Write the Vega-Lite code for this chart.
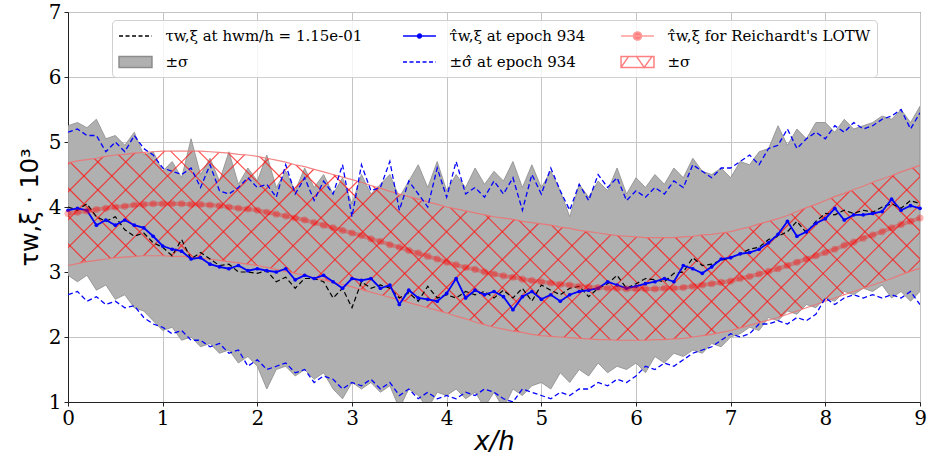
{
"$schema": "https://vega.github.io/schema/vega-lite/v6.json",
"width": 852, "height": 390,
"autosize": {"type": "none"},
"padding": {"left": 68, "top": 12, "right": 9, "bottom": 56},
"background": "white",
"config": {
  "view": {"stroke": "#222222", "strokeWidth": 1},
  "axis": {"zindex": 1, "grid": true, "gridColor": "#c4c4c4", "gridWidth": 1, "domainColor": "#222222", "tickColor": "#222222", "tickSize": 4, "labelColor": "black", "labelFont": "DejaVu Serif", "labelFontSize": 20, "labelFlush": false, "titleColor": "black", "titleFont": "DejaVu Sans", "titleFontWeight": "normal", "format": "d"},
  "axisX": {"labelPadding": 2, "titlePadding": 0, "titleFontStyle": "italic", "titleFontSize": 26},
  "axisY": {"labelPadding": 3, "titlePadding": 6, "titleFontSize": 24},
  "legend": {"labelFont": "DejaVu Serif", "labelFontSize": 15, "labelColor": "black", "labelLimit": 400, "symbolStrokeWidth": 1.5, "fillColor": "rgba(255,255,255,0.82)", "strokeColor": "#d0d0d0", "cornerRadius": 4, "padding": 6, "zindex": 2},
  "style": {
    "hatch": {"stroke": null}
  }
},
"datasets": {
"main": [
{"x":0.0,"t":4.00,"b":3.95,"gl":2.95,"gh":5.25,"bl":2.65,"bh":5.15,"r":3.90,"rl":3.10,"rh":4.68},
{"x":0.1,"t":3.95,"b":3.98,"gl":2.85,"gh":5.30,"bl":2.70,"bh":5.20,"r":3.92,"rl":3.13,"rh":4.71},
{"x":0.2,"t":4.05,"b":3.95,"gl":2.95,"gh":5.22,"bl":2.55,"bh":5.10,"r":3.94,"rl":3.16,"rh":4.73},
{"x":0.3,"t":3.85,"b":3.72,"gl":2.72,"gh":5.35,"bl":2.62,"bh":5.10,"r":3.96,"rl":3.18,"rh":4.75},
{"x":0.4,"t":3.78,"b":3.80,"gl":2.80,"gh":5.05,"bl":2.50,"bh":4.85,"r":3.98,"rl":3.20,"rh":4.78},
{"x":0.5,"t":3.85,"b":3.72,"gl":2.58,"gh":5.10,"bl":2.55,"bh":5.00,"r":4.00,"rl":3.22,"rh":4.80},
{"x":0.6,"t":3.65,"b":3.80,"gl":2.65,"gh":4.95,"bl":2.45,"bh":4.85,"r":4.01,"rl":3.23,"rh":4.81},
{"x":0.7,"t":3.55,"b":3.72,"gl":2.45,"gh":5.15,"bl":2.48,"bh":5.10,"r":4.03,"rl":3.24,"rh":4.83},
{"x":0.8,"t":3.60,"b":3.68,"gl":2.40,"gh":4.80,"bl":2.30,"bh":4.90,"r":4.04,"rl":3.25,"rh":4.84},
{"x":0.9,"t":3.45,"b":3.55,"gl":2.25,"gh":4.85,"bl":2.20,"bh":4.80,"r":4.05,"rl":3.25,"rh":4.85},
{"x":1.0,"t":3.38,"b":3.40,"gl":2.10,"gh":4.55,"bl":2.15,"bh":4.60,"r":4.05,"rl":3.25,"rh":4.86},
{"x":1.1,"t":3.25,"b":3.35,"gl":2.15,"gh":4.70,"bl":2.05,"bh":4.55,"r":4.05,"rl":3.24,"rh":4.86},
{"x":1.2,"t":3.50,"b":3.32,"gl":1.95,"gh":4.45,"bl":2.10,"bh":4.50,"r":4.05,"rl":3.24,"rh":4.86},
{"x":1.3,"t":3.20,"b":3.20,"gl":2.00,"gh":5.05,"bl":1.95,"bh":4.60,"r":4.04,"rl":3.23,"rh":4.86},
{"x":1.4,"t":3.30,"b":3.22,"gl":1.85,"gh":4.50,"bl":1.95,"bh":4.30,"r":4.04,"rl":3.21,"rh":4.86},
{"x":1.5,"t":3.20,"b":3.12,"gl":1.90,"gh":4.75,"bl":1.85,"bh":4.65,"r":4.03,"rl":3.20,"rh":4.85},
{"x":1.6,"t":3.10,"b":3.08,"gl":1.75,"gh":4.40,"bl":1.90,"bh":4.25,"r":4.02,"rl":3.18,"rh":4.84},
{"x":1.7,"t":3.12,"b":3.05,"gl":1.80,"gh":4.85,"bl":1.75,"bh":4.20,"r":4.00,"rl":3.16,"rh":4.83},
{"x":1.8,"t":3.00,"b":3.10,"gl":1.60,"gh":4.35,"bl":1.80,"bh":4.30,"r":3.98,"rl":3.14,"rh":4.81},
{"x":1.9,"t":3.00,"b":3.02,"gl":1.70,"gh":4.60,"bl":1.55,"bh":4.45,"r":3.97,"rl":3.12,"rh":4.80},
{"x":2.0,"t":2.98,"b":3.05,"gl":1.55,"gh":4.40,"bl":1.65,"bh":4.30,"r":3.95,"rl":3.10,"rh":4.78},
{"x":2.1,"t":3.02,"b":3.02,"gl":1.20,"gh":4.80,"bl":1.50,"bh":4.35,"r":3.92,"rl":3.07,"rh":4.75},
{"x":2.2,"t":2.85,"b":3.00,"gl":1.50,"gh":4.30,"bl":1.55,"bh":4.15,"r":3.89,"rl":3.04,"rh":4.72},
{"x":2.3,"t":2.92,"b":3.05,"gl":1.55,"gh":4.55,"bl":1.60,"bh":4.65,"r":3.86,"rl":3.01,"rh":4.69},
{"x":2.4,"t":2.75,"b":2.88,"gl":1.40,"gh":4.25,"bl":1.45,"bh":4.20,"r":3.83,"rl":2.98,"rh":4.65},
{"x":2.5,"t":2.90,"b":2.95,"gl":1.50,"gh":4.60,"bl":1.50,"bh":4.45,"r":3.80,"rl":2.95,"rh":4.62},
{"x":2.6,"t":2.90,"b":2.90,"gl":1.35,"gh":4.30,"bl":1.30,"bh":4.10,"r":3.76,"rl":2.91,"rh":4.58},
{"x":2.7,"t":2.85,"b":2.95,"gl":1.45,"gh":4.50,"bl":1.40,"bh":4.40,"r":3.72,"rl":2.88,"rh":4.54},
{"x":2.8,"t":2.60,"b":2.85,"gl":1.20,"gh":4.20,"bl":1.35,"bh":4.20,"r":3.68,"rl":2.84,"rh":4.50},
{"x":2.9,"t":2.75,"b":2.75,"gl":1.05,"gh":4.45,"bl":1.20,"bh":4.65,"r":3.64,"rl":2.81,"rh":4.46},
{"x":3.0,"t":2.45,"b":2.90,"gl":1.30,"gh":4.05,"bl":1.30,"bh":3.85,"r":3.60,"rl":2.77,"rh":4.42},
{"x":3.1,"t":2.85,"b":2.87,"gl":1.20,"gh":4.50,"bl":1.25,"bh":4.65,"r":3.56,"rl":2.73,"rh":4.38},
{"x":3.2,"t":2.75,"b":2.90,"gl":1.30,"gh":4.20,"bl":1.35,"bh":4.25,"r":3.51,"rl":2.69,"rh":4.33},
{"x":3.3,"t":2.80,"b":2.75,"gl":1.15,"gh":4.35,"bl":1.20,"bh":4.30,"r":3.47,"rl":2.65,"rh":4.29},
{"x":3.4,"t":2.75,"b":2.80,"gl":1.25,"gh":4.50,"bl":1.30,"bh":4.70,"r":3.42,"rl":2.61,"rh":4.24},
{"x":3.5,"t":2.60,"b":2.50,"gl":0.90,"gh":4.15,"bl":1.10,"bh":3.95,"r":3.38,"rl":2.57,"rh":4.20},
{"x":3.6,"t":2.68,"b":2.72,"gl":1.20,"gh":4.40,"bl":1.20,"bh":4.40,"r":3.33,"rl":2.53,"rh":4.16},
{"x":3.7,"t":2.55,"b":2.60,"gl":1.10,"gh":4.65,"bl":1.05,"bh":4.20,"r":3.29,"rl":2.49,"rh":4.12},
{"x":3.8,"t":2.78,"b":2.58,"gl":0.90,"gh":4.30,"bl":1.15,"bh":4.00,"r":3.24,"rl":2.45,"rh":4.08},
{"x":3.9,"t":2.60,"b":2.55,"gl":1.15,"gh":4.70,"bl":1.05,"bh":4.60,"r":3.20,"rl":2.41,"rh":4.04},
{"x":4.0,"t":2.65,"b":2.67,"gl":1.10,"gh":4.25,"bl":1.10,"bh":4.15,"r":3.15,"rl":2.37,"rh":4.00},
{"x":4.1,"t":2.60,"b":2.90,"gl":1.20,"gh":4.50,"bl":1.05,"bh":4.70,"r":3.11,"rl":2.32,"rh":3.97},
{"x":4.2,"t":2.70,"b":2.60,"gl":1.05,"gh":4.30,"bl":1.15,"bh":4.20,"r":3.07,"rl":2.28,"rh":3.94},
{"x":4.3,"t":2.65,"b":2.72,"gl":1.15,"gh":4.60,"bl":1.10,"bh":4.30,"r":3.04,"rl":2.23,"rh":3.91},
{"x":4.4,"t":2.70,"b":2.65,"gl":0.92,"gh":4.35,"bl":1.20,"bh":4.15,"r":3.00,"rl":2.19,"rh":3.88},
{"x":4.5,"t":2.60,"b":2.70,"gl":1.15,"gh":4.55,"bl":1.15,"bh":4.40,"r":2.97,"rl":2.15,"rh":3.85},
{"x":4.6,"t":2.72,"b":2.62,"gl":0.90,"gh":4.40,"bl":1.05,"bh":4.20,"r":2.94,"rl":2.12,"rh":3.83},
{"x":4.7,"t":2.60,"b":2.42,"gl":1.20,"gh":4.70,"bl":1.00,"bh":4.45,"r":2.92,"rl":2.09,"rh":3.81},
{"x":4.8,"t":2.75,"b":2.62,"gl":1.10,"gh":4.30,"bl":1.20,"bh":3.95,"r":2.89,"rl":2.07,"rh":3.78},
{"x":4.9,"t":2.55,"b":2.70,"gl":1.25,"gh":4.65,"bl":1.15,"bh":4.50,"r":2.87,"rl":2.04,"rh":3.76},
{"x":5.0,"t":2.80,"b":2.58,"gl":1.30,"gh":4.30,"bl":1.10,"bh":4.20,"r":2.85,"rl":2.02,"rh":3.74},
{"x":5.1,"t":2.72,"b":2.65,"gl":1.20,"gh":4.55,"bl":1.05,"bh":4.60,"r":2.83,"rl":2.01,"rh":3.72},
{"x":5.2,"t":2.65,"b":2.55,"gl":1.45,"gh":4.25,"bl":1.15,"bh":4.25,"r":2.81,"rl":2.00,"rh":3.69},
{"x":5.3,"t":2.75,"b":2.65,"gl":1.30,"gh":3.85,"bl":1.10,"bh":3.95,"r":2.80,"rl":1.99,"rh":3.67},
{"x":5.4,"t":2.78,"b":2.70,"gl":1.50,"gh":4.35,"bl":1.20,"bh":4.35,"r":2.78,"rl":1.98,"rh":3.64},
{"x":5.5,"t":2.62,"b":2.72,"gl":1.40,"gh":4.15,"bl":1.20,"bh":4.10,"r":2.77,"rl":1.97,"rh":3.62},
{"x":5.6,"t":2.75,"b":2.75,"gl":1.60,"gh":4.40,"bl":1.30,"bh":4.50,"r":2.76,"rl":1.96,"rh":3.60},
{"x":5.7,"t":2.82,"b":2.85,"gl":1.45,"gh":4.25,"bl":1.25,"bh":4.30,"r":2.75,"rl":1.96,"rh":3.58},
{"x":5.8,"t":2.95,"b":2.80,"gl":1.55,"gh":4.60,"bl":1.35,"bh":4.45,"r":2.75,"rl":1.95,"rh":3.56},
{"x":5.9,"t":2.75,"b":2.75,"gl":1.50,"gh":4.20,"bl":1.30,"bh":4.10,"r":2.74,"rl":1.95,"rh":3.55},
{"x":6.0,"t":2.82,"b":2.78,"gl":1.60,"gh":4.45,"bl":1.40,"bh":4.25,"r":2.74,"rl":1.95,"rh":3.54},
{"x":6.1,"t":2.90,"b":2.82,"gl":1.45,"gh":4.30,"bl":1.55,"bh":4.15,"r":2.74,"rl":1.95,"rh":3.53},
{"x":6.2,"t":2.88,"b":2.85,"gl":1.70,"gh":4.50,"bl":1.50,"bh":4.30,"r":2.74,"rl":1.96,"rh":3.53},
{"x":6.3,"t":2.85,"b":2.90,"gl":1.60,"gh":4.35,"bl":1.60,"bh":4.20,"r":2.75,"rl":1.96,"rh":3.53},
{"x":6.4,"t":2.98,"b":2.85,"gl":1.75,"gh":4.60,"bl":1.55,"bh":4.40,"r":2.75,"rl":1.97,"rh":3.53},
{"x":6.5,"t":3.00,"b":3.10,"gl":1.70,"gh":4.45,"bl":1.65,"bh":4.30,"r":2.76,"rl":1.98,"rh":3.54},
{"x":6.6,"t":3.22,"b":3.05,"gl":1.80,"gh":4.75,"bl":1.75,"bh":4.65,"r":2.78,"rl":2.00,"rh":3.55},
{"x":6.7,"t":3.10,"b":2.98,"gl":1.75,"gh":4.55,"bl":1.80,"bh":4.55,"r":2.80,"rl":2.02,"rh":3.57},
{"x":6.8,"t":3.12,"b":3.08,"gl":1.90,"gh":4.50,"bl":1.85,"bh":4.45,"r":2.82,"rl":2.04,"rh":3.58},
{"x":6.9,"t":3.18,"b":3.20,"gl":1.85,"gh":4.60,"bl":1.95,"bh":4.60,"r":2.84,"rl":2.07,"rh":3.60},
{"x":7.0,"t":3.22,"b":3.22,"gl":2.00,"gh":4.45,"bl":2.05,"bh":4.60,"r":2.86,"rl":2.10,"rh":3.62},
{"x":7.1,"t":3.28,"b":3.28,"gl":2.05,"gh":4.70,"bl":2.00,"bh":4.70,"r":2.90,"rl":2.14,"rh":3.66},
{"x":7.2,"t":3.35,"b":3.30,"gl":2.15,"gh":4.65,"bl":2.05,"bh":4.80,"r":2.93,"rl":2.18,"rh":3.69},
{"x":7.3,"t":3.38,"b":3.35,"gl":2.10,"gh":4.85,"bl":2.20,"bh":4.65,"r":2.97,"rl":2.22,"rh":3.74},
{"x":7.4,"t":3.50,"b":3.45,"gl":2.30,"gh":4.90,"bl":2.20,"bh":4.90,"r":3.01,"rl":2.26,"rh":3.78},
{"x":7.5,"t":3.55,"b":3.58,"gl":2.25,"gh":5.25,"bl":2.25,"bh":4.95,"r":3.05,"rl":2.30,"rh":3.82},
{"x":7.6,"t":3.62,"b":3.78,"gl":2.40,"gh":4.95,"bl":2.20,"bh":5.20,"r":3.10,"rl":2.35,"rh":3.87},
{"x":7.7,"t":3.78,"b":3.55,"gl":2.35,"gh":5.20,"bl":2.30,"bh":4.90,"r":3.15,"rl":2.40,"rh":3.93},
{"x":7.8,"t":3.60,"b":3.62,"gl":2.50,"gh":5.05,"bl":2.25,"bh":5.05,"r":3.20,"rl":2.45,"rh":3.99},
{"x":7.9,"t":3.78,"b":3.75,"gl":2.45,"gh":5.30,"bl":2.35,"bh":5.15,"r":3.25,"rl":2.50,"rh":4.04},
{"x":8.0,"t":3.90,"b":3.82,"gl":2.60,"gh":5.30,"bl":2.60,"bh":5.05,"r":3.30,"rl":2.55,"rh":4.10},
{"x":8.1,"t":3.88,"b":3.98,"gl":2.55,"gh":5.15,"bl":2.50,"bh":5.25,"r":3.35,"rl":2.60,"rh":4.16},
{"x":8.2,"t":3.95,"b":3.80,"gl":2.70,"gh":5.35,"bl":2.60,"bh":5.15,"r":3.41,"rl":2.65,"rh":4.21},
{"x":8.3,"t":3.90,"b":3.88,"gl":2.65,"gh":5.20,"bl":2.65,"bh":5.30,"r":3.46,"rl":2.70,"rh":4.27},
{"x":8.4,"t":3.95,"b":3.88,"gl":2.75,"gh":5.25,"bl":2.60,"bh":5.20,"r":3.52,"rl":2.75,"rh":4.32},
{"x":8.5,"t":3.92,"b":3.90,"gl":2.70,"gh":5.30,"bl":2.65,"bh":5.25,"r":3.57,"rl":2.80,"rh":4.38},
{"x":8.6,"t":4.00,"b":3.93,"gl":2.80,"gh":5.40,"bl":2.60,"bh":5.35,"r":3.62,"rl":2.85,"rh":4.43},
{"x":8.7,"t":4.05,"b":4.12,"gl":2.60,"gh":5.35,"bl":2.65,"bh":5.40,"r":3.68,"rl":2.90,"rh":4.48},
{"x":8.8,"t":3.98,"b":3.95,"gl":2.70,"gh":5.50,"bl":2.60,"bh":5.50,"r":3.73,"rl":2.96,"rh":4.54},
{"x":8.9,"t":4.10,"b":4.02,"gl":2.55,"gh":5.30,"bl":2.70,"bh":5.20,"r":3.78,"rl":3.01,"rh":4.59},
{"x":9.0,"t":4.05,"b":3.98,"gl":2.70,"gh":5.55,"bl":2.50,"bh":5.45,"r":3.83,"rl":3.06,"rh":4.64}
],
"leg": [{"k":"a"},{"k":"d"},{"k":"b"},{"k":"e"},{"k":"c"},{"k":"f"}]
},
"encoding": {
  "x": {"field": "x", "type": "quantitative", "title": "x/h", "scale": {"domain": [0, 9], "nice": false}, "axis": {"values": [0,1,2,3,4,5,6,7,8,9]}}
},
"layer": [
  {"data": {"name": "main"}, "mark": {"type": "area", "fill": "#b0b0b0", "stroke": "#8c8c8c", "strokeWidth": 0.8, "clip": true},
   "encoding": {"y": {"field": "gl", "type": "quantitative", "title": "τw,ξ · 10³", "scale": {"domain": [1, 7], "nice": false}, "axis": {"values": [1,2,3,4,5,6,7]}}, "y2": {"field": "gh"}}},
  {"data": {"name": "main"}, "mark": {"type": "area", "clip": true, "fill": {"gradient": "linear", "x1": 0, "y1": 0, "x2": 1.2, "y2": 0.2665, "stops": [
    {"offset":0.0106,"color":"rgba(255,0,0,0)"},{"offset":0.012,"color":"rgba(255,30,30,0.85)"},{"offset":0.0134,"color":"rgba(255,0,0,0)"},
    {"offset":0.0366,"color":"rgba(255,0,0,0)"},{"offset":0.038,"color":"rgba(255,30,30,0.85)"},{"offset":0.0394,"color":"rgba(255,0,0,0)"},
    {"offset":0.0626,"color":"rgba(255,0,0,0)"},{"offset":0.064,"color":"rgba(255,30,30,0.85)"},{"offset":0.0654,"color":"rgba(255,0,0,0)"},
    {"offset":0.0886,"color":"rgba(255,0,0,0)"},{"offset":0.090,"color":"rgba(255,30,30,0.85)"},{"offset":0.0914,"color":"rgba(255,0,0,0)"},
    {"offset":0.1146,"color":"rgba(255,0,0,0)"},{"offset":0.116,"color":"rgba(255,30,30,0.85)"},{"offset":0.1174,"color":"rgba(255,0,0,0)"},
    {"offset":0.1406,"color":"rgba(255,0,0,0)"},{"offset":0.142,"color":"rgba(255,30,30,0.85)"},{"offset":0.1434,"color":"rgba(255,0,0,0)"},
    {"offset":0.1666,"color":"rgba(255,0,0,0)"},{"offset":0.168,"color":"rgba(255,30,30,0.85)"},{"offset":0.1694,"color":"rgba(255,0,0,0)"},
    {"offset":0.1926,"color":"rgba(255,0,0,0)"},{"offset":0.194,"color":"rgba(255,30,30,0.85)"},{"offset":0.1954,"color":"rgba(255,0,0,0)"},
    {"offset":0.2186,"color":"rgba(255,0,0,0)"},{"offset":0.220,"color":"rgba(255,30,30,0.85)"},{"offset":0.2214,"color":"rgba(255,0,0,0)"},
    {"offset":0.2446,"color":"rgba(255,0,0,0)"},{"offset":0.246,"color":"rgba(255,30,30,0.85)"},{"offset":0.2474,"color":"rgba(255,0,0,0)"},
    {"offset":0.2706,"color":"rgba(255,0,0,0)"},{"offset":0.272,"color":"rgba(255,30,30,0.85)"},{"offset":0.2734,"color":"rgba(255,0,0,0)"},
    {"offset":0.2966,"color":"rgba(255,0,0,0)"},{"offset":0.298,"color":"rgba(255,30,30,0.85)"},{"offset":0.2994,"color":"rgba(255,0,0,0)"},
    {"offset":0.3226,"color":"rgba(255,0,0,0)"},{"offset":0.324,"color":"rgba(255,30,30,0.85)"},{"offset":0.3254,"color":"rgba(255,0,0,0)"},
    {"offset":0.3486,"color":"rgba(255,0,0,0)"},{"offset":0.350,"color":"rgba(255,30,30,0.85)"},{"offset":0.3514,"color":"rgba(255,0,0,0)"},
    {"offset":0.3746,"color":"rgba(255,0,0,0)"},{"offset":0.376,"color":"rgba(255,30,30,0.85)"},{"offset":0.3774,"color":"rgba(255,0,0,0)"},
    {"offset":0.4006,"color":"rgba(255,0,0,0)"},{"offset":0.402,"color":"rgba(255,30,30,0.85)"},{"offset":0.4034,"color":"rgba(255,0,0,0)"},
    {"offset":0.4266,"color":"rgba(255,0,0,0)"},{"offset":0.428,"color":"rgba(255,30,30,0.85)"},{"offset":0.4294,"color":"rgba(255,0,0,0)"},
    {"offset":0.4526,"color":"rgba(255,0,0,0)"},{"offset":0.454,"color":"rgba(255,30,30,0.85)"},{"offset":0.4554,"color":"rgba(255,0,0,0)"},
    {"offset":0.4786,"color":"rgba(255,0,0,0)"},{"offset":0.480,"color":"rgba(255,30,30,0.85)"},{"offset":0.4814,"color":"rgba(255,0,0,0)"},
    {"offset":0.5046,"color":"rgba(255,0,0,0)"},{"offset":0.506,"color":"rgba(255,30,30,0.85)"},{"offset":0.5074,"color":"rgba(255,0,0,0)"},
    {"offset":0.5306,"color":"rgba(255,0,0,0)"},{"offset":0.532,"color":"rgba(255,30,30,0.85)"},{"offset":0.5334,"color":"rgba(255,0,0,0)"},
    {"offset":0.5566,"color":"rgba(255,0,0,0)"},{"offset":0.558,"color":"rgba(255,30,30,0.85)"},{"offset":0.5594,"color":"rgba(255,0,0,0)"},
    {"offset":0.5826,"color":"rgba(255,0,0,0)"},{"offset":0.584,"color":"rgba(255,30,30,0.85)"},{"offset":0.5854,"color":"rgba(255,0,0,0)"},
    {"offset":0.6086,"color":"rgba(255,0,0,0)"},{"offset":0.610,"color":"rgba(255,30,30,0.85)"},{"offset":0.6114,"color":"rgba(255,0,0,0)"},
    {"offset":0.6346,"color":"rgba(255,0,0,0)"},{"offset":0.636,"color":"rgba(255,30,30,0.85)"},{"offset":0.6374,"color":"rgba(255,0,0,0)"},
    {"offset":0.6606,"color":"rgba(255,0,0,0)"},{"offset":0.662,"color":"rgba(255,30,30,0.85)"},{"offset":0.6634,"color":"rgba(255,0,0,0)"},
    {"offset":0.6866,"color":"rgba(255,0,0,0)"},{"offset":0.688,"color":"rgba(255,30,30,0.85)"},{"offset":0.6894,"color":"rgba(255,0,0,0)"},
    {"offset":0.7126,"color":"rgba(255,0,0,0)"},{"offset":0.714,"color":"rgba(255,30,30,0.85)"},{"offset":0.7154,"color":"rgba(255,0,0,0)"},
    {"offset":0.7386,"color":"rgba(255,0,0,0)"},{"offset":0.740,"color":"rgba(255,30,30,0.85)"},{"offset":0.7414,"color":"rgba(255,0,0,0)"},
    {"offset":0.7646,"color":"rgba(255,0,0,0)"},{"offset":0.766,"color":"rgba(255,30,30,0.85)"},{"offset":0.7674,"color":"rgba(255,0,0,0)"},
    {"offset":0.7906,"color":"rgba(255,0,0,0)"},{"offset":0.792,"color":"rgba(255,30,30,0.85)"},{"offset":0.7934,"color":"rgba(255,0,0,0)"},
    {"offset":0.8166,"color":"rgba(255,0,0,0)"},{"offset":0.818,"color":"rgba(255,30,30,0.85)"},{"offset":0.8194,"color":"rgba(255,0,0,0)"},
    {"offset":0.8426,"color":"rgba(255,0,0,0)"},{"offset":0.844,"color":"rgba(255,30,30,0.85)"},{"offset":0.8454,"color":"rgba(255,0,0,0)"},
    {"offset":0.8686,"color":"rgba(255,0,0,0)"},{"offset":0.870,"color":"rgba(255,30,30,0.85)"},{"offset":0.8714,"color":"rgba(255,0,0,0)"},
    {"offset":0.8946,"color":"rgba(255,0,0,0)"},{"offset":0.896,"color":"rgba(255,30,30,0.85)"},{"offset":0.8974,"color":"rgba(255,0,0,0)"},
    {"offset":0.9206,"color":"rgba(255,0,0,0)"},{"offset":0.922,"color":"rgba(255,30,30,0.85)"},{"offset":0.9234,"color":"rgba(255,0,0,0)"},
    {"offset":0.9466,"color":"rgba(255,0,0,0)"},{"offset":0.948,"color":"rgba(255,30,30,0.85)"},{"offset":0.9494,"color":"rgba(255,0,0,0)"},
    {"offset":0.9726,"color":"rgba(255,0,0,0)"},{"offset":0.974,"color":"rgba(255,30,30,0.85)"},{"offset":0.9754,"color":"rgba(255,0,0,0)"}]}},
   "encoding": {"y": {"field": "rl", "type": "quantitative", "title": "τw,ξ · 10³"}, "y2": {"field": "rh"}}},
  {"data": {"name": "main"}, "mark": {"type": "area", "clip": true, "fill": {"gradient": "linear", "x1": 0, "y1": 1, "x2": 1.2, "y2": 0.7335, "stops": [
    {"offset":0.0106,"color":"rgba(255,0,0,0)"},{"offset":0.012,"color":"rgba(255,30,30,0.85)"},{"offset":0.0134,"color":"rgba(255,0,0,0)"},
    {"offset":0.0366,"color":"rgba(255,0,0,0)"},{"offset":0.038,"color":"rgba(255,30,30,0.85)"},{"offset":0.0394,"color":"rgba(255,0,0,0)"},
    {"offset":0.0626,"color":"rgba(255,0,0,0)"},{"offset":0.064,"color":"rgba(255,30,30,0.85)"},{"offset":0.0654,"color":"rgba(255,0,0,0)"},
    {"offset":0.0886,"color":"rgba(255,0,0,0)"},{"offset":0.090,"color":"rgba(255,30,30,0.85)"},{"offset":0.0914,"color":"rgba(255,0,0,0)"},
    {"offset":0.1146,"color":"rgba(255,0,0,0)"},{"offset":0.116,"color":"rgba(255,30,30,0.85)"},{"offset":0.1174,"color":"rgba(255,0,0,0)"},
    {"offset":0.1406,"color":"rgba(255,0,0,0)"},{"offset":0.142,"color":"rgba(255,30,30,0.85)"},{"offset":0.1434,"color":"rgba(255,0,0,0)"},
    {"offset":0.1666,"color":"rgba(255,0,0,0)"},{"offset":0.168,"color":"rgba(255,30,30,0.85)"},{"offset":0.1694,"color":"rgba(255,0,0,0)"},
    {"offset":0.1926,"color":"rgba(255,0,0,0)"},{"offset":0.194,"color":"rgba(255,30,30,0.85)"},{"offset":0.1954,"color":"rgba(255,0,0,0)"},
    {"offset":0.2186,"color":"rgba(255,0,0,0)"},{"offset":0.220,"color":"rgba(255,30,30,0.85)"},{"offset":0.2214,"color":"rgba(255,0,0,0)"},
    {"offset":0.2446,"color":"rgba(255,0,0,0)"},{"offset":0.246,"color":"rgba(255,30,30,0.85)"},{"offset":0.2474,"color":"rgba(255,0,0,0)"},
    {"offset":0.2706,"color":"rgba(255,0,0,0)"},{"offset":0.272,"color":"rgba(255,30,30,0.85)"},{"offset":0.2734,"color":"rgba(255,0,0,0)"},
    {"offset":0.2966,"color":"rgba(255,0,0,0)"},{"offset":0.298,"color":"rgba(255,30,30,0.85)"},{"offset":0.2994,"color":"rgba(255,0,0,0)"},
    {"offset":0.3226,"color":"rgba(255,0,0,0)"},{"offset":0.324,"color":"rgba(255,30,30,0.85)"},{"offset":0.3254,"color":"rgba(255,0,0,0)"},
    {"offset":0.3486,"color":"rgba(255,0,0,0)"},{"offset":0.350,"color":"rgba(255,30,30,0.85)"},{"offset":0.3514,"color":"rgba(255,0,0,0)"},
    {"offset":0.3746,"color":"rgba(255,0,0,0)"},{"offset":0.376,"color":"rgba(255,30,30,0.85)"},{"offset":0.3774,"color":"rgba(255,0,0,0)"},
    {"offset":0.4006,"color":"rgba(255,0,0,0)"},{"offset":0.402,"color":"rgba(255,30,30,0.85)"},{"offset":0.4034,"color":"rgba(255,0,0,0)"},
    {"offset":0.4266,"color":"rgba(255,0,0,0)"},{"offset":0.428,"color":"rgba(255,30,30,0.85)"},{"offset":0.4294,"color":"rgba(255,0,0,0)"},
    {"offset":0.4526,"color":"rgba(255,0,0,0)"},{"offset":0.454,"color":"rgba(255,30,30,0.85)"},{"offset":0.4554,"color":"rgba(255,0,0,0)"},
    {"offset":0.4786,"color":"rgba(255,0,0,0)"},{"offset":0.480,"color":"rgba(255,30,30,0.85)"},{"offset":0.4814,"color":"rgba(255,0,0,0)"},
    {"offset":0.5046,"color":"rgba(255,0,0,0)"},{"offset":0.506,"color":"rgba(255,30,30,0.85)"},{"offset":0.5074,"color":"rgba(255,0,0,0)"},
    {"offset":0.5306,"color":"rgba(255,0,0,0)"},{"offset":0.532,"color":"rgba(255,30,30,0.85)"},{"offset":0.5334,"color":"rgba(255,0,0,0)"},
    {"offset":0.5566,"color":"rgba(255,0,0,0)"},{"offset":0.558,"color":"rgba(255,30,30,0.85)"},{"offset":0.5594,"color":"rgba(255,0,0,0)"},
    {"offset":0.5826,"color":"rgba(255,0,0,0)"},{"offset":0.584,"color":"rgba(255,30,30,0.85)"},{"offset":0.5854,"color":"rgba(255,0,0,0)"},
    {"offset":0.6086,"color":"rgba(255,0,0,0)"},{"offset":0.610,"color":"rgba(255,30,30,0.85)"},{"offset":0.6114,"color":"rgba(255,0,0,0)"},
    {"offset":0.6346,"color":"rgba(255,0,0,0)"},{"offset":0.636,"color":"rgba(255,30,30,0.85)"},{"offset":0.6374,"color":"rgba(255,0,0,0)"},
    {"offset":0.6606,"color":"rgba(255,0,0,0)"},{"offset":0.662,"color":"rgba(255,30,30,0.85)"},{"offset":0.6634,"color":"rgba(255,0,0,0)"},
    {"offset":0.6866,"color":"rgba(255,0,0,0)"},{"offset":0.688,"color":"rgba(255,30,30,0.85)"},{"offset":0.6894,"color":"rgba(255,0,0,0)"},
    {"offset":0.7126,"color":"rgba(255,0,0,0)"},{"offset":0.714,"color":"rgba(255,30,30,0.85)"},{"offset":0.7154,"color":"rgba(255,0,0,0)"},
    {"offset":0.7386,"color":"rgba(255,0,0,0)"},{"offset":0.740,"color":"rgba(255,30,30,0.85)"},{"offset":0.7414,"color":"rgba(255,0,0,0)"},
    {"offset":0.7646,"color":"rgba(255,0,0,0)"},{"offset":0.766,"color":"rgba(255,30,30,0.85)"},{"offset":0.7674,"color":"rgba(255,0,0,0)"},
    {"offset":0.7906,"color":"rgba(255,0,0,0)"},{"offset":0.792,"color":"rgba(255,30,30,0.85)"},{"offset":0.7934,"color":"rgba(255,0,0,0)"},
    {"offset":0.8166,"color":"rgba(255,0,0,0)"},{"offset":0.818,"color":"rgba(255,30,30,0.85)"},{"offset":0.8194,"color":"rgba(255,0,0,0)"},
    {"offset":0.8426,"color":"rgba(255,0,0,0)"},{"offset":0.844,"color":"rgba(255,30,30,0.85)"},{"offset":0.8454,"color":"rgba(255,0,0,0)"},
    {"offset":0.8686,"color":"rgba(255,0,0,0)"},{"offset":0.870,"color":"rgba(255,30,30,0.85)"},{"offset":0.8714,"color":"rgba(255,0,0,0)"},
    {"offset":0.8946,"color":"rgba(255,0,0,0)"},{"offset":0.896,"color":"rgba(255,30,30,0.85)"},{"offset":0.8974,"color":"rgba(255,0,0,0)"},
    {"offset":0.9206,"color":"rgba(255,0,0,0)"},{"offset":0.922,"color":"rgba(255,30,30,0.85)"},{"offset":0.9234,"color":"rgba(255,0,0,0)"},
    {"offset":0.9466,"color":"rgba(255,0,0,0)"},{"offset":0.948,"color":"rgba(255,30,30,0.85)"},{"offset":0.9494,"color":"rgba(255,0,0,0)"},
    {"offset":0.9726,"color":"rgba(255,0,0,0)"},{"offset":0.974,"color":"rgba(255,30,30,0.85)"},{"offset":0.9754,"color":"rgba(255,0,0,0)"}]}},
   "encoding": {"y": {"field": "rl", "type": "quantitative", "title": "τw,ξ · 10³"}, "y2": {"field": "rh"}}},
  {"data": {"name": "main"}, "mark": {"type": "line", "stroke": "#f07070", "strokeWidth": 1.2, "opacity": 0.85},
   "encoding": {"y": {"field": "rl", "type": "quantitative", "title": "τw,ξ · 10³"}}},
  {"data": {"name": "main"}, "mark": {"type": "line", "stroke": "#f07070", "strokeWidth": 1.2, "opacity": 0.85},
   "encoding": {"y": {"field": "rh", "type": "quantitative", "title": "τw,ξ · 10³"}}},
  {"data": {"name": "main"}, "mark": {"type": "line", "stroke": "black", "strokeWidth": 1.2, "strokeDash": [5, 3]},
   "encoding": {"y": {"field": "t", "type": "quantitative", "title": "τw,ξ · 10³"}}},
  {"data": {"name": "main"}, "mark": {"type": "line", "stroke": "#0000ff", "strokeWidth": 1.8, "point": {"filled": true, "size": 14, "color": "#0000ff", "opacity": 1}},
   "encoding": {"y": {"field": "b", "type": "quantitative", "title": "τw,ξ · 10³"}}},
  {"data": {"name": "main"}, "mark": {"type": "line", "stroke": "#0000ff", "strokeWidth": 1.3, "strokeDash": [5, 3], "clip": true},
   "encoding": {"y": {"field": "bh", "type": "quantitative", "title": "τw,ξ · 10³"}}},
  {"data": {"name": "main"}, "mark": {"type": "line", "stroke": "#0000ff", "strokeWidth": 1.3, "strokeDash": [5, 3], "clip": true},
   "encoding": {"y": {"field": "bl", "type": "quantitative", "title": "τw,ξ · 10³"}}},
  {"data": {"name": "main"}, "mark": {"type": "line", "stroke": "#ff0000", "strokeWidth": 4, "opacity": 0.3, "point": {"filled": true, "size": 50, "color": "#ff0000", "opacity": 0.3}},
   "encoding": {"y": {"field": "r", "type": "quantitative", "title": "τw,ξ · 10³"}}},
  {"data": {"name": "leg"}, "mark": {"type": "point", "filled": true, "opacity": 1, "strokeWidth": 1.5, "size": 324},
   "encoding": {
     "y": {"field": "y", "type": "quantitative", "title": "τw,ξ · 10³"},
     "fill": {"field": "k", "type": "nominal", "scale": {"domain": ["a","d","b","e","c","f"], "range": ["black", "#b0b0b0", "#0000ff", "#0000ff", "#ff8080", "#ffffff"]},
       "legend": {"title": null, "orient": "none", "legendX": 44, "legendY": 8, "columns": 3, "columnPadding": 32, "rowPadding": 8, "symbolSize": 324, "symbolOffset": 7.5, "labelOffset": 20, "symbolOpacity": 1,
         "labelExpr": "datum.label == 'a' ? 'τw,ξ at hwm/h =  1.15e-01' : datum.label == 'b' ? 'τ̂w,ξ at epoch 934' : datum.label == 'c' ? \"τ̂w,ξ for Reichardt's LOTW\" : datum.label == 'd' ? '±σ' : datum.label == 'e' ? '±σ̂ at epoch 934' : '±σ'"}},
     "stroke": {"field": "k", "type": "nominal", "scale": {"domain": ["a","d","b","e","c","f"], "range": ["black", "#8c8c8c", "#0000ff", "#0000ff", "#ff9a9a", "#ff8080"]}, "legend": {"title": null}},
     "strokeDash": {"field": "k", "type": "nominal", "scale": {"domain": ["a","d","b","e","c","f"], "range": [[4, 2.5], [1, 0], [1, 0], [4, 2.5], [1, 0], [1, 0]]}, "legend": {"title": null}},
     "shape": {"field": "k", "type": "nominal", "scale": {"domain": ["a","d","b","e","c","f"], "range": [
        "M-1.83,0H1.83",
        "M-1.83,-0.6H1.83V0.6H-1.83Z",
        "M-1.83,0H1.83M-0.22,0A0.22,0.22,0,1,1,0.22,0A0.22,0.22,0,1,1,-0.22,0",
        "M-1.83,0H1.83",
        "M-1.83,0H1.83M-0.45,0A0.45,0.45,0,1,1,0.45,0A0.45,0.45,0,1,1,-0.45,0",
        "M-1.83,-0.6H1.83V0.6H-1.83ZM-1.83,0.6L-1,-0.6M-0.1,-0.6L0.75,0.6L1.6,-0.6"]}, "legend": {"title": null}}
   }}
]
}
